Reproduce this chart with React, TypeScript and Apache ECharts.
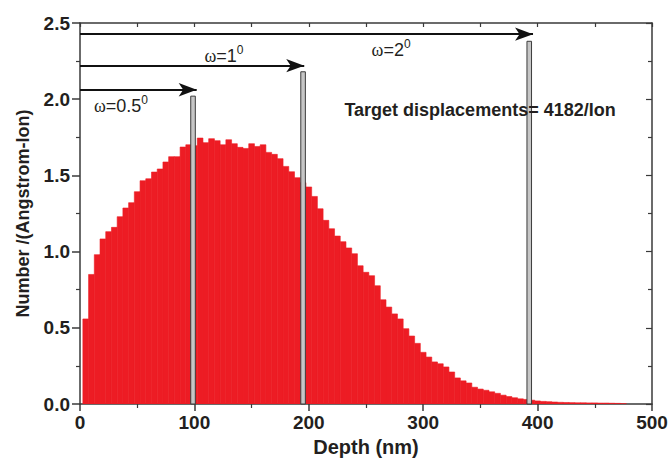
import React, { useEffect, useRef } from "react";
import * as echarts from "echarts";

// Histogram bin centres (nm) and heights (Number / (Angstrom-Ion))
const depthCenters = [
  5, 10, 15, 20, 25, 30, 35, 40, 45, 50, 55, 60, 65, 70, 75, 80, 85, 90, 95, 100,
  105, 110, 115, 120, 125, 130, 135, 140, 145, 150, 155, 160, 165, 170, 175, 180, 185, 190, 195, 200,
  205, 210, 215, 220, 225, 230, 235, 240, 245, 250, 255, 260, 265, 270, 275, 280, 285, 290, 295, 300,
  305, 310, 315, 320, 325, 330, 335, 340, 345, 350, 355, 360, 365, 370, 375, 380, 385, 390, 395, 400,
  405, 410, 415, 420, 425, 430, 435, 440, 445, 450, 455, 460, 465, 470, 475,
];
const numberValues = [
  0.558, 0.85, 0.98, 1.083, 1.131, 1.159, 1.229, 1.286, 1.321, 1.393, 1.465, 1.478, 1.522, 1.542, 1.588, 1.623, 1.623, 1.686, 1.701, 1.695,
  1.745, 1.715, 1.741, 1.728, 1.701, 1.734, 1.708, 1.684, 1.677, 1.708, 1.69, 1.701, 1.651, 1.638, 1.61, 1.559, 1.524, 1.485, 1.452, 1.424,
  1.362, 1.281, 1.205, 1.15, 1.102, 1.065, 1.024, 0.986, 0.907, 0.864, 0.842, 0.776, 0.684, 0.636, 0.591, 0.558, 0.494, 0.446, 0.398, 0.339,
  0.308, 0.276, 0.264, 0.243, 0.21, 0.171, 0.152, 0.138, 0.11, 0.098, 0.09, 0.08, 0.07, 0.058, 0.049, 0.041, 0.034, 0.03, 0.025, 0.02,
  0.017, 0.015, 0.013, 0.011, 0.01, 0.009, 0.008, 0.008, 0.007, 0.007, 0.006, 0.006, 0.005, 0.004, 0.002,
];

// Grey marker bars
const markerDepths = [98.8, 195, 392.7];
const markerHeights = [2.02, 2.18, 2.38];

// Arrows (from depth 0 to the arrow tip at given level)
const arrowLevels = [2.062, 2.22, 2.427];
const arrowEnds = [102, 196, 396];

// Annotations
const omegaValues = ["0.5", "1", "2"];
const omegaLabelX = [35.8, 125.9, 271.9];
const omegaLabelY = [1.957, 2.286, 2.325];
const targetText = "Target displacements= 4182/Ion";
const targetX = 349.7;
const targetY = 1.931;

const xTickLabels = ["0", "100", "200", "300", "400", "500"];
const yTickLabels = ["0.0", "0.5", "1.0", "1.5", "2.0", "2.5"];

const SANS = "'Liberation Sans', Arial, Helvetica, sans-serif";
const SERIF = "'Liberation Serif', 'Times New Roman', serif";
const TEXT = "#231f20";
const AXIS = "#3a3a3a";

export default function App() {
  const ref = useRef<HTMLDivElement>(null);

  useEffect(() => {
    if (!ref.current) return;
    const chart = echarts.init(ref.current, null, { renderer: "svg" });

    const histData = depthCenters.map((d, i) => [d, numberValues[i]]);
    const markerData = markerDepths.map((d, i) => [d, markerHeights[i]]);

    const option: any = {
      animation: false,
      backgroundColor: "#ffffff",
      grid: {
        left: 80,
        top: 23,
        right: 16,
        bottom: 54,
        containLabel: false,
        outerBoundsMode: "none",
      },
      xAxis: [
        {
          type: "value",
          min: 0,
          max: 500,
          interval: 100,
          position: "bottom",
          name: "Depth (nm)",
          nameLocation: "middle",
          nameGap: 30,
          nameTextStyle: { fontFamily: SANS, fontWeight: "bold", fontSize: 20, color: TEXT },
          axisLine: { show: true, onZero: false, lineStyle: { color: AXIS, width: 1.5 } },
          axisTick: { show: true, inside: false, length: 7, lineStyle: { color: AXIS, width: 1.5 } },
          minorTick: { show: true, splitNumber: 2, length: 4, lineStyle: { color: AXIS, width: 1.2 } },
          splitLine: { show: false },
          axisLabel: {
            margin: 9,
            fontFamily: SANS,
            fontWeight: "bold",
            fontSize: 19,
            color: TEXT,
            formatter: (v: number) => xTickLabels[Math.round(v / 100)] ?? "",
          },
        },
        {
          type: "value",
          min: 0,
          max: 500,
          interval: 50,
          position: "top",
          axisLine: { show: true, onZero: false, lineStyle: { color: AXIS, width: 1.5 } },
          axisTick: { show: true, inside: true, length: 4, lineStyle: { color: AXIS, width: 1.2 } },
          axisLabel: { show: false },
          splitLine: { show: false },
        },
      ],
      yAxis: [
        {
          type: "value",
          min: 0,
          max: 2.5,
          interval: 0.5,
          position: "left",
          name: "Number /(Angstrom-Ion)",
          nameLocation: "middle",
          nameGap: 48,
          nameTextStyle: { fontFamily: SANS, fontWeight: "bold", fontSize: 18, color: TEXT },
          axisLine: { show: true, onZero: false, lineStyle: { color: AXIS, width: 1.5 } },
          axisTick: { show: true, inside: false, length: 8, lineStyle: { color: AXIS, width: 1.5 } },
          minorTick: { show: true, splitNumber: 2, length: 4, lineStyle: { color: AXIS, width: 1.2 } },
          splitLine: { show: false },
          axisLabel: {
            margin: 10,
            fontFamily: SANS,
            fontWeight: "bold",
            fontSize: 19,
            color: TEXT,
            formatter: (v: number) => yTickLabels[Math.round(v / 0.5)] ?? "",
          },
        },
        {
          type: "value",
          min: 0,
          max: 2.5,
          interval: 0.5,
          position: "right",
          axisLine: { show: true, onZero: false, lineStyle: { color: AXIS, width: 1.5 } },
          axisTick: { show: true, inside: true, length: 6, lineStyle: { color: AXIS, width: 1.2 } },
          minorTick: { show: true, splitNumber: 2, length: 4, lineStyle: { color: AXIS, width: 1.2 } },
          axisLabel: { show: false },
          splitLine: { show: false },
        },
      ],
      series: [
        {
          type: "custom",
          name: "histogram",
          xAxisIndex: 0,
          yAxisIndex: 0,
          clip: true,
          encode: { x: 0, y: 1 },
          data: histData,
          renderItem: (params: any, api: any) => {
            const x = api.value(0);
            const y = api.value(1);
            const tl = api.coord([x - 2.5, y]);
            const br = api.coord([x + 2.5, 0]);
            return {
              type: "rect",
              shape: { x: tl[0], y: tl[1], width: br[0] - tl[0], height: br[1] - tl[1] },
              style: { fill: "#ED1C24", stroke: "#ED1C24", lineWidth: 0.6 },
            };
          },
        },
        {
          type: "custom",
          name: "markers",
          xAxisIndex: 0,
          yAxisIndex: 0,
          encode: { x: 0, y: 1 },
          data: markerData,
          renderItem: (params: any, api: any) => {
            const x = api.value(0);
            const y = api.value(1);
            const tl = api.coord([x - 2, y]);
            const br = api.coord([x + 2, 0]);
            return {
              type: "rect",
              shape: { x: tl[0], y: tl[1], width: br[0] - tl[0], height: br[1] - tl[1] },
              style: { fill: "#c6c6c6", stroke: "#3c3c3c", lineWidth: 1 },
            };
          },
          markLine: {
            silent: true,
            symbol: ["none", "arrow"],
            symbolSize: [10, 18],
            label: { show: false },
            lineStyle: { color: "#111111", width: 2, type: "solid", opacity: 1 },
            data: arrowLevels.map((lv, i) => [
              { coord: [0, lv] },
              { coord: [arrowEnds[i], lv] },
            ]),
          },
        },
        {
          type: "scatter",
          name: "labels",
          symbolSize: 1,
          itemStyle: { color: "rgba(0,0,0,0)", opacity: 1 },
          silent: true,
          data: [
            ...omegaValues.map((w, i) => ({
              value: [omegaLabelX[i], omegaLabelY[i]],
              name: w,
              label: {
                show: true,
                position: "inside",
                opacity: 1,
                formatter: (p: any) => `{w|ω}{t|=${p.name}}{s|0}`,
                rich: {
                  w: { fontFamily: SERIF, fontSize: 18, color: TEXT, lineHeight: 24, verticalAlign: "middle" },
                  t: { fontFamily: SANS, fontSize: 18, color: TEXT, lineHeight: 24, verticalAlign: "middle" },
                  s: { fontFamily: SANS, fontSize: 12, color: TEXT, lineHeight: 12, verticalAlign: "top" },
                },
              },
            })),
            {
              value: [targetX, targetY],
              name: targetText,
              label: {
                show: true,
                position: "inside",
                opacity: 1,
                formatter: (p: any) => p.name,
                fontFamily: SANS,
                fontWeight: "bold",
                fontSize: 18,
                color: TEXT,
              },
            },
          ],
        },
      ],
    };

    chart.setOption(option);
    return () => chart.dispose();
  }, []);

  return (
    <div
      ref={ref}
      style={{ position: "fixed", left: 0, top: 0, width: 668, height: 458, background: "#fff" }}
    />
  );
}
